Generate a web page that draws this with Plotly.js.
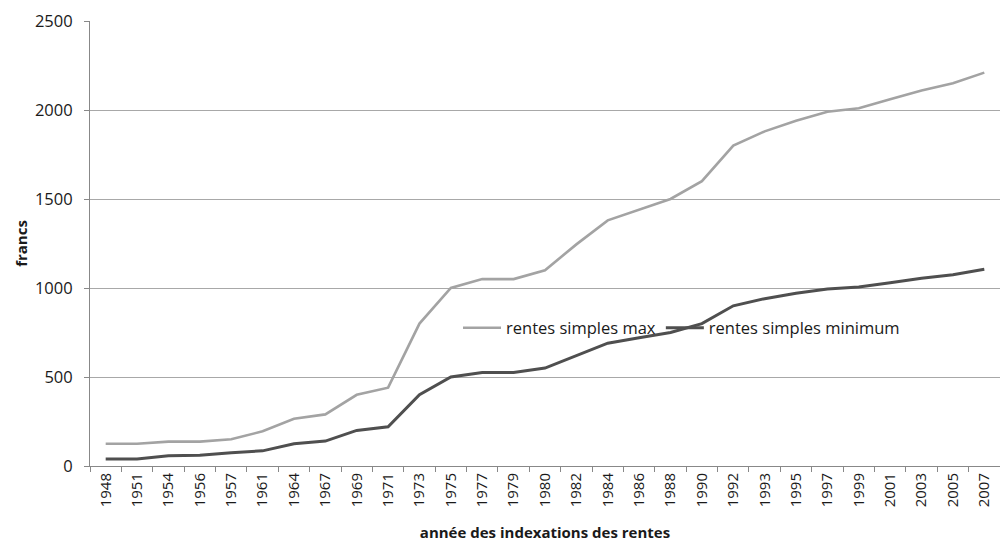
<!DOCTYPE html>
<html>
<head>
<meta charset="utf-8">
<script src="https://cdn.plot.ly/plotly-3.0.1.min.js"></script>
<style>html,body{margin:0;padding:0;background:#fff;}#chart{width:1000px;height:542px;}</style>
</head>
<body>
<div id="chart"></div>
<script>
const years = ["1948","1951","1954","1956","1957","1961","1964","1967","1969","1971","1973","1975","1977","1979","1980","1982","1984","1986","1988","1990","1992","1993","1995","1997","1999","2001","2003","2005","2007"];
const rentesMax = [125,125,137,137,150,195,265,290,400,440,800,1000,1050,1050,1100,1245,1380,1440,1500,1600,1800,1880,1940,1990,2010,2060,2110,2150,2210];
const rentesMin = [40,40,58,60,75,85,125,140,200,220,400,500,525,525,550,620,690,720,750,800,900,940,970,995,1005,1030,1055,1075,1105];

const font = "Open Sans, Liberation Sans, sans-serif";
const traces = [
  {x: years, y: rentesMax, type: "scatter", mode: "lines", name: "rentes simples max",
   line: {color: "#a3a3a3", width: 2.6}},
  {x: years, y: rentesMin, type: "scatter", mode: "lines", name: "rentes simples minimum",
   line: {color: "#4f4f4f", width: 3}}
];
const layout = {
  width: 1000, height: 542,
  margin: {l: 90, r: 0, t: 21, b: 76},
  paper_bgcolor: "#fff", plot_bgcolor: "#fff",
  font: {family: font, size: 15, color: "#1a1a1a"},
  showlegend: true,
  legend: {orientation: "h", x: 0.65, y: 0.31, xanchor: "center", yanchor: "middle",
           bgcolor: "rgba(0,0,0,0)", font: {size: 16.5, color: "#1a1a1a"}, itemwidth: 38, tracegroupgap: 0},
  xaxis: {type: "category", tickangle: -90, tickson: "boundaries", ticks: "outside", ticklen: 5,
          tickcolor: "#888", showline: true, linecolor: "#888", linewidth: 1, showgrid: false,
          tickfont: {size: 15}, range: [-0.5, 28.5],
          title: {text: "<b>année des indexations des rentes</b>", font: {size: 15}, standoff: 24}},
  yaxis: {range: [0, 2500], dtick: 500, ticks: "outside", ticklen: 5, tickcolor: "#888",
          showline: true, linecolor: "#888", linewidth: 1, gridcolor: "#a8a8a8", gridwidth: 1,
          zeroline: false, tickfont: {size: 16.5}, ticklabelstandoff: 8,
          title: {text: "<b>francs</b>", font: {size: 15}, standoff: 3}}
};
Plotly.newPlot("chart", traces, layout, {displayModeBar: false, staticPlot: true});
</script>
</body>
</html>
